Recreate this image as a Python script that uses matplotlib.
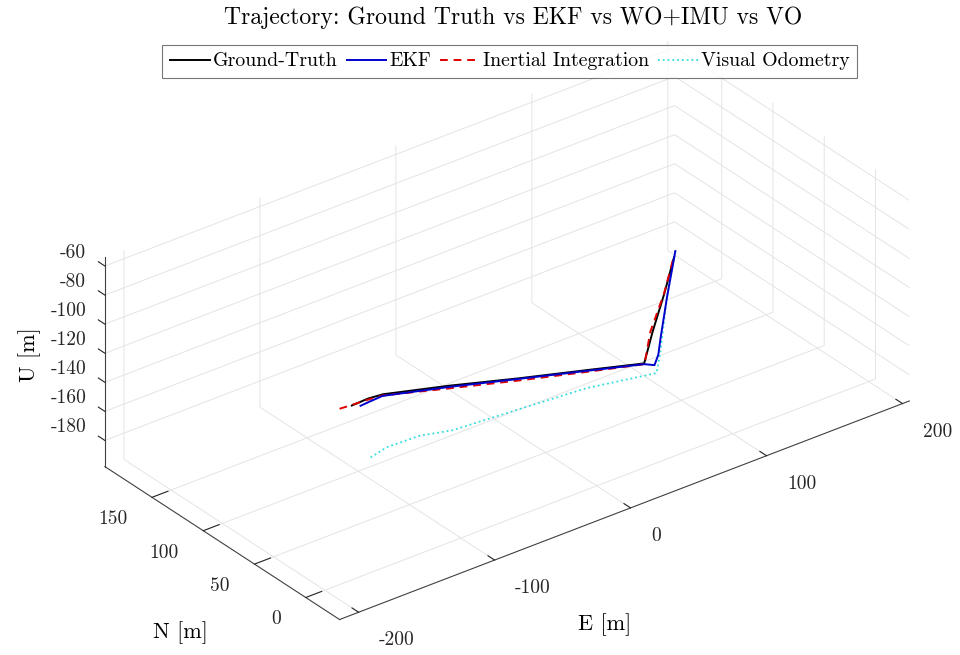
import matplotlib
matplotlib.use('Agg')
import matplotlib.pyplot as plt
from matplotlib.transforms import ScaledTranslation

plt.rcParams['font.family'] = ['cmr10', 'DejaVu Serif']
plt.rcParams['axes.formatter.use_mathtext'] = True
plt.rcParams['grid.color'] = '#e4e4e4'
plt.rcParams['grid.linewidth'] = 0.7

# trajectories (E, N, U) in metres
gt_e = [-205, -193, -182, -133, -82, -30, 10, 66, 135, 197]
gt_n = [-33, -33, -33, -32, -33, -33, -33, 33, 113, 186]
gt_u = [-54, -53.5, -54.5, -66.7, -79.4, -92.2, -102.2, -130.7, -165.7, -197]

ekf_e = [-198.6, -191.9, -182.4, -133, -82, -30, 10, 17.6, 28.7, 51.3, 127, 198]
ekf_n = [-33, -33, -33, -33, -33, -33, -33, -33, -22, 5.9, 100, 186]
ekf_u = [-56.5, -56, -55.5, -67, -79.8, -92.7, -102.7, -106.1, -108, -118, -160, -193]

ins_e = [-214, -205.2, -193.4, -182.4, -133, -82, -30, 10.3, 65, 134, 196]
ins_n = [-33, -33, -33, -33, -33, -33, -33, -33, 34, 112, 185]
ins_u = [-53, -53.6, -54.2, -55.2, -68, -80.9, -93.4, -102.8, -131, -165, -196]

vo_e = [-191.2, -179.4, -155.2, -130.9, -81.6, -32.4, 19.1, 29.3, 46.8, 127, 198]
vo_n = [-33, -33, -33, -33, -33, -33, -33, -21.4, -0.1, 100, 186]
vo_u = [-94.7, -91.9, -92.7, -97.6, -100.7, -104, -112.1, -114, -122, -160, -193]

e_ticks = [-200, -100, 0, 100, 200]
n_ticks = [0, 50, 100, 150]
u_ticks = [-180, -160, -140, -120, -100, -80, -60]

fig = plt.figure(figsize=(9.6, 6.55), dpi=100)
ax = fig.add_axes([0.019, -0.016, 1.0, 1.0], projection='3d', proj_type='ortho')
ax.computed_zorder = False

ax.plot(vo_e, vo_n, vo_u, color='#33dddd', lw=1.3, ls=':', label='Visual Odometry', zorder=1)
ax.plot(gt_e, gt_n, gt_u, color='black', lw=1.4, label='Ground-Truth', zorder=2)
ax.plot(ins_e, ins_n, ins_u, color='#e00000', lw=1.4, ls=(0, (4, 3)), label='Inertial Integration', zorder=3)
ax.plot(ekf_e, ekf_n, ekf_u, color='#0000cc', lw=1.4, label='EKF', zorder=4)

ax.set_xlim(-214, 205)
ax.set_ylim(-33, 196)
ax.set_zlim(-198, -54)
ax.set_box_aspect((719, 386, 242), zoom=1.26)
ax.view_init(elev=30, azim=-127.5)

ax.set_xticks(e_ticks)
ax.set_xticklabels([str(t) for t in e_ticks], ha='left')
ax.set_yticks(n_ticks)
ax.set_yticklabels([str(t) for t in n_ticks], ha='right')
ax.set_zticks(u_ticks)
ax.set_zticklabels([str(t) for t in u_ticks], ha='right')
# U ticks point along N, as in MATLAB
ax.zaxis._get_tickdir = lambda position: 1


def shift_ticklabels(axis, dx, dy):
    # nudge tick labels by (dx, dy) pixels after mplot3d places them
    orig = axis.get_major_ticks

    def wrapped(numticks=None):
        ticks = orig(numticks)
        off = ScaledTranslation(dx / 100, dy / 100, fig.dpi_scale_trans)
        for t in ticks:
            t.label1.set_transform(ax.transData + off)
        return ticks
    axis.get_major_ticks = wrapped


shift_ticklabels(ax.xaxis, 8, 0)
shift_ticklabels(ax.yaxis, 2, 7)
shift_ticklabels(ax.zaxis, 19, 25)

for axis in (ax.xaxis, ax.yaxis, ax.zaxis):
    axis.set_pane_color((1, 1, 1, 0))
    axis.pane.set_edgecolor('none')
    axis.line.set_color('#404040')
    axis.line.set_linewidth(0.8)
    axis._axinfo['tick']['inward_factor'] = 0.0
    axis._axinfo['tick']['outward_factor'] = 0.35
    axis._axinfo['tick']['color'] = '#404040'
ax.tick_params(labelsize=14, colors='#262626')
ax.tick_params(axis='x', pad=5)

# axis titles
fig.text(0.630, 0.046, 'E [m]', ha='center', va='center', fontsize=16)
fig.text(0.188, 0.034, 'N [m]', ha='center', va='center', fontsize=16)
fig.text(0.031, 0.458, 'U [m]', ha='center', va='center', fontsize=16, rotation=90)

handles, labels = ax.get_legend_handles_labels()
order = [1, 3, 2, 0]
fig.text(0.535, 0.99, 'Trajectory: Ground Truth vs EKF vs WO+IMU vs VO',
         ha='center', va='top', fontsize=17)
leg = fig.legend([handles[i] for i in order], [labels[i] for i in order],
                 loc='upper center', bbox_to_anchor=(0.531, 0.932), ncol=4,
                 fontsize=14.3, frameon=True, fancybox=False, handlelength=2.0,
                 handletextpad=0.15, columnspacing=0.45, borderpad=0.4,
                 borderaxespad=0)
leg.get_frame().set_edgecolor('#555555')
leg.get_frame().set_linewidth(0.8)

fig.savefig('out.png', dpi=100)
